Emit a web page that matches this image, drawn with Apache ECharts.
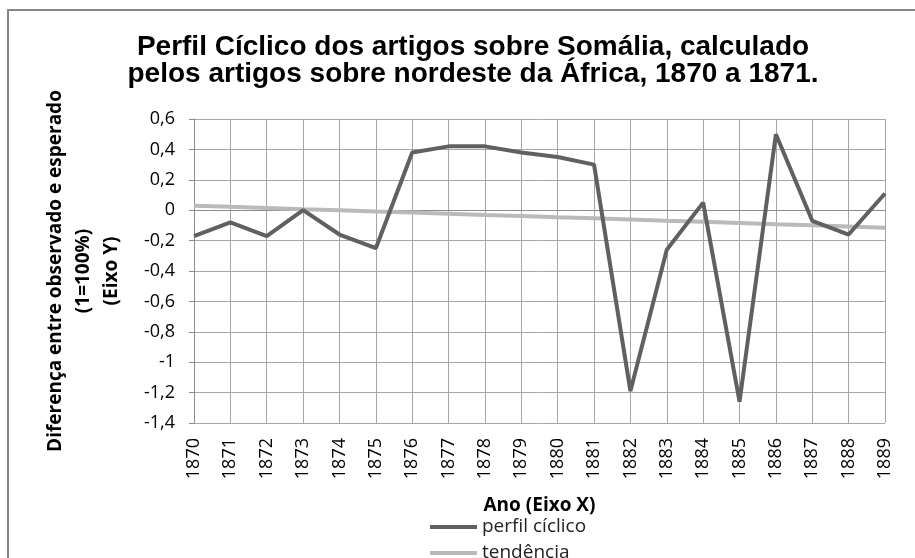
<!DOCTYPE html>
<html>
<head>
<meta charset="utf-8">
<script src="https://cdn.jsdelivr.net/npm/echarts@6/dist/echarts.min.js"></script>
<style>
  html, body { margin: 0; padding: 0; background: #fff; }
  #chart { width: 915px; height: 558px; }
</style>
</head>
<body>
<div id="chart"></div>
<script>
// dados
const anos = ['1870', '1871', '1872', '1873', '1874', '1875', '1876', '1877', '1878', '1879',
  '1880', '1881', '1882', '1883', '1884', '1885', '1886', '1887', '1888', '1889'];
const perfilCiclico = [-0.17, -0.08, -0.17, 0.0, -0.16, -0.25, 0.38, 0.42, 0.42, 0.38,
  0.35, 0.30, -1.19, -0.26, 0.05, -1.26, 0.50, -0.07, -0.16, 0.11];
const tendencia = [0.03, 0.022, 0.015, 0.007, 0.0, -0.008, -0.015, -0.023, -0.031, -0.038,
  -0.046, -0.053, -0.061, -0.069, -0.076, -0.084, -0.092, -0.099, -0.107, -0.115];

const chart = echarts.init(document.getElementById('chart'));

const option = {
  animation: false,
  backgroundColor: '#fff',
  title: {
    text: 'Perfil Cíclico dos artigos sobre Somália, calculado\npelos artigos sobre nordeste da África, 1870 a 1871.',
    left: 468,
    top: 29,
    textAlign: 'center',
    textStyle: {
      fontFamily: 'Liberation Sans',
      fontWeight: 'bold',
      fontSize: 28,
      lineHeight: 27,
      color: '#000'
    }
  },
  // moldura externa
  graphic: [{
    type: 'rect',
    shape: { x: 8, y: 10, width: 1000, height: 1000 },
    style: { fill: 'none', stroke: '#868686', lineWidth: 2 },
    silent: true
  }],
  legend: {
    orient: 'vertical',
    left: 425,
    top: 512,
    height: 80,
    icon: 'rect',
    itemWidth: 47,
    itemHeight: 4,
    itemGap: 6,
    textStyle: { fontFamily: 'Open Sans', fontSize: 19, lineHeight: 20, color: '#222' },
    data: ['perfil cíclico', 'tendência']
  },
  grid: {
    left: 194,
    right: 30,
    top: 119,
    bottom: 135,
    containLabel: false,
    outerBoundsMode: 'none'
  },
  xAxis: {
    type: 'category',
    data: anos,
    boundaryGap: false,
    name: 'Ano (Eixo X)',
    nameLocation: 'middle',
    nameGap: 73,
    nameTextStyle: { fontFamily: 'Open Sans', fontWeight: 'bold', fontSize: 19, color: '#000' },
    axisLine: { lineStyle: { color: '#8c8c8c', width: 1 } },
    axisTick: { show: false },
    axisLabel: {
      interval: 0,
      rotate: 90,
      margin: 15,
      fontFamily: 'Open Sans',
      fontSize: 18,
      color: '#000'
    },
    splitLine: { show: true, interval: 0, lineStyle: { color: '#a6a6a6', width: 1 } }
  },
  yAxis: {
    type: 'value',
    min: -1.4,
    max: 0.6,
    interval: 0.2,
    name: 'Diferença entre observado e esperado\n(1=100%)\n(Eixo Y)',
    nameLocation: 'middle',
    nameGap: 68,
    nameTextStyle: { fontFamily: 'Open Sans', fontWeight: 'bold', fontSize: 19, lineHeight: 28, color: '#000' },
    axisLine: { show: true, lineStyle: { color: '#8c8c8c', width: 1 } },
    axisTick: { show: true, length: 5, lineStyle: { color: '#8c8c8c' } },
    axisLabel: {
      margin: 19,
      fontFamily: 'Open Sans',
      fontSize: 18,
      color: '#000',
      formatter: function (v) {
        return String(Math.round(v * 10) / 10).replace('.', ',');
      }
    },
    splitLine: { show: true, lineStyle: { color: '#a6a6a6', width: 1 } }
  },
  series: [
    {
      name: 'perfil cíclico',
      type: 'line',
      data: perfilCiclico,
      symbol: 'none',
      lineStyle: { width: 4, color: '#606060' },
      itemStyle: { color: '#606060' },
      z: 3
    },
    {
      name: 'tendência',
      type: 'line',
      data: tendencia,
      symbol: 'none',
      lineStyle: { width: 4, color: '#bababa' },
      itemStyle: { color: '#bababa' },
      z: 2
    }
  ]
};

chart.setOption(option);
</script>
</body>
</html>
